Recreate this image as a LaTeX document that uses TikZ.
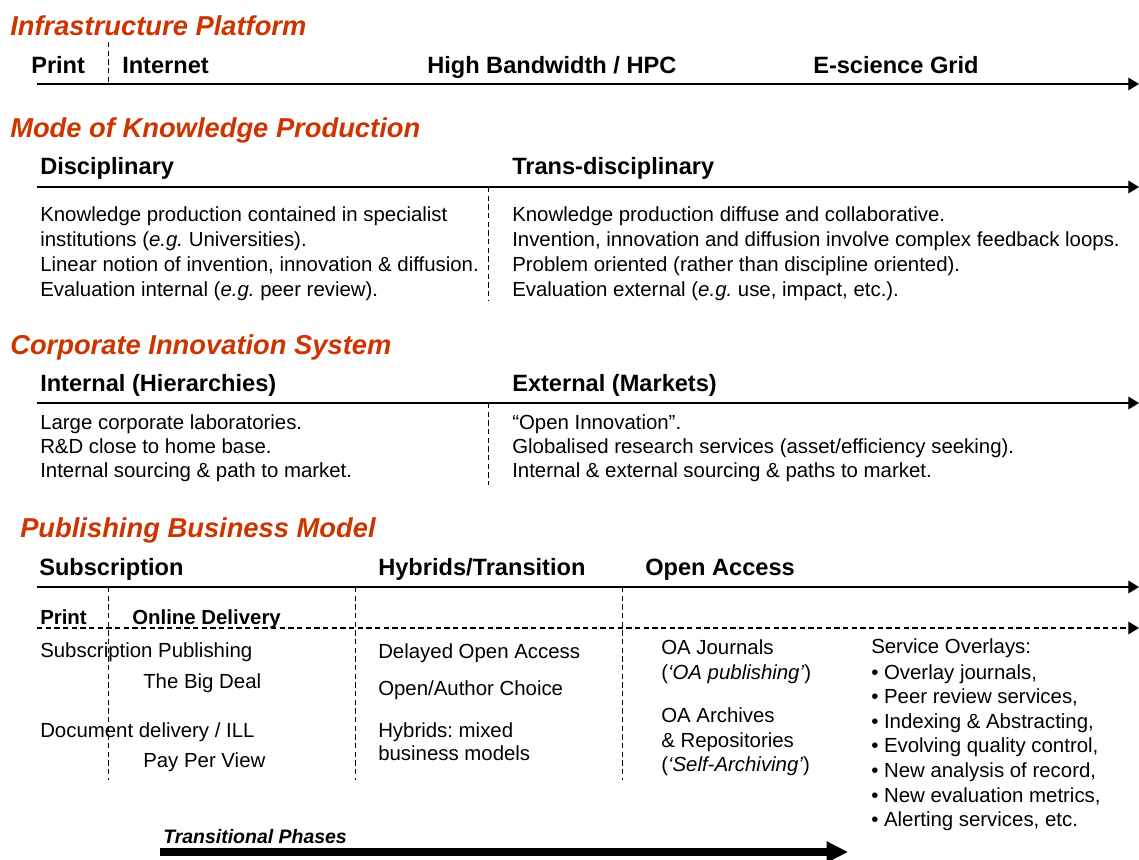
\documentclass[tikz,border=0pt]{standalone}
\usepackage{fontspec}
\setmainfont{Liberation Sans}
\usepackage{xcolor}
\usetikzlibrary{arrows.meta}
\definecolor{titlered}{RGB}{206,52,0}
\frenchspacing

\begin{document}
\begin{tikzpicture}[x=0.75pt,y=-0.75pt,
      title/.style={anchor=base west,inner sep=0,text=titlered,
        font=\fontsize{20.5}{24}\selectfont\bfseries\itshape},
      head/.style={anchor=base west,inner sep=0,font=\fontsize{17.7}{21}\selectfont\bfseries},
      body/.style={anchor=base west,inner sep=0,font=\fontsize{15.3}{18}\selectfont},
      subhead/.style={body,font=\fontsize{15.3}{18}\selectfont\bfseries},
      axis/.style={line width=0.9pt,-{Triangle[length=8pt,width=9.5pt]}},
      divider/.style={line width=0.6pt,dash pattern=on 4pt off 2.5pt}]
      \useasboundingbox (0,0) rectangle (1139,860);

      % infrastructure
      \node[title] (infra) at (10,35) {Infrastructure Platform};
      \node[head] (print) at (31,73) {Print};
      \node[head] (internet) at (122,73) {Internet};
      \node[head] (hpc) at (427,73) {High Bandwidth / HPC};
      \node[head] (grid) at (813,73) {E-science Grid};
      \coordinate (infraS) at (37,84);
      \coordinate (infraE) at (1139,84);
      \coordinate (infraD) at (108,42);
      \draw[axis] (infraS) -- (infraE);
      \draw[divider] (infraD) -- (infraD |- infraS);

      % knowledge production
      \node[title] (mode) at (10,137) {Mode of Knowledge Production};
      \node[head] (disc) at (40,174) {Disciplinary};
      \node[head] (trans) at (512,174) {Trans-disciplinary};
      \coordinate (modeS) at (37,187);
      \coordinate (modeE) at (1139,187);
      \coordinate (modeD) at (488,187);
      \coordinate (modeB) at (488,300);
      \draw[axis] (modeS) -- (modeE);
      \draw[divider] (modeD) -- (modeB);
      \foreach \txt [count=\i] in {{Knowledge production contained in specialist},
          {institutions (\textit{e.g.} Universities).},
          {Linear notion of invention, innovation \& diffusion.},
          {Evaluation internal (\textit{e.g.} peer review).}}
        \node[body] (disc\i) at (40,{221+25*(\i-1)}) {\txt};
      \foreach \txt [count=\i] in {{Knowledge production diffuse and collaborative.},
          {Invention, innovation and diffusion involve complex feedback loops.},
          {Problem oriented (rather than discipline oriented).},
          {Evaluation external (\textit{e.g.} use, impact, etc.).}}
        \node[body] (trans\i) at (512,{221+25*(\i-1)}) {\txt};

      % corporate
      \node[title] (corp) at (10,354) {Corporate Innovation System};
      \node[head] (intern) at (40,391) {Internal (Hierarchies)};
      \node[head] (extern) at (512,391) {External (Markets)};
      \coordinate (corpS) at (37,403);
      \coordinate (corpE) at (1139,403);
      \coordinate (corpD) at (488,403);
      \coordinate (corpB) at (488,485);
      \draw[axis] (corpS) -- (corpE);
      \draw[divider] (corpD) -- (corpB);
      \foreach \txt [count=\i] in {{Large corporate laboratories.},
          {R\&D close to home base.},
          {Internal sourcing \& path to market.}}
        \node[body] (intern\i) at (40,{429+24*(\i-1)}) {\txt};
      \foreach \txt [count=\i] in {{“Open Innovation”.},
          {Globalised research services (asset/efficiency seeking).},
          {Internal \& external sourcing \& paths to market.}}
        \node[body] (extern\i) at (512,{429+24*(\i-1)}) {\txt};

      % publishing
      \node[title] (pub) at (20,537) {Publishing Business Model};
      \node[head] (subs) at (39,575) {Subscription};
      \node[head] (hybrid) at (378,575) {Hybrids/Transition};
      \node[head] (oa) at (645,575) {Open Access};
      \node[subhead] (pprint) at (40,624) {Print};
      \node[subhead] (online) at (132,624) {Online Delivery};
      \coordinate (pubS) at (37,587);
      \coordinate (pubE) at (1139,587);
      \coordinate (subS) at (37,628);
      \coordinate (subE) at (1139,628);
      \draw[axis] (pubS) -- (pubE);
      \draw[axis,dash pattern=on 4pt off 2.5pt] (subS) -- (subE);
      \foreach \x/\name in {108/pA,355/pB,622/pC} {
        \coordinate (\name) at (\x,587);
        \draw[divider] (\name) -- ++(0,193);
      }

      \node[body] (subpub) at (40,657) {Subscription Publishing};
      \node[body] (bigdeal) at (143,688) {The Big Deal};
      \node[body] (docdel) at (40,737) {Document delivery / ILL};
      \node[body] (ppv) at (143,767) {Pay Per View};

      \node[body] (delayed) at (378,658) {Delayed Open Access};
      \node[body] (choice) at (378,695) {Open/Author Choice};
      \node[body] (mixed1) at (378,737) {Hybrids: mixed};
      \node[body] (mixed2) at (378,760) {business models};

      \node[body] (oaj1) at (661,654) {OA Journals};
      \node[body] (oaj2) at (661,679) {(\textit{‘OA publishing’})};
      \node[body] (oar1) at (661,722) {OA Archives};
      \node[body] (oar2) at (661,747) {\& Repositories};
      \node[body] (oar3) at (661,771) {(\textit{‘Self-Archiving’})};

      \node[body] (overlay) at (871,653) {Service Overlays:};
      \foreach \txt [count=\i] in {{Overlay journals,},{Peer review services,},
          {Indexing \& Abstracting,},{Evolving quality control,},
          {New analysis of record,},{New evaluation metrics,},
          {Alerting services, etc.}}
        \node[body] (overlay\i) at (871,{679+24.6*(\i-1)}) {• \txt};

      \node[anchor=base west,inner sep=0,font=\fontsize{14.6}{18}\selectfont\bfseries\itshape]
        (phases) at (163,843) {Transitional Phases};
      \coordinate (phaseS) at (160,852);
      \coordinate (phaseE) at (848,852);
      \draw[line width=6pt,-{Triangle[length=16pt,width=15pt]}] (phaseS) -- (phaseE);
\end{tikzpicture}
\end{document}
